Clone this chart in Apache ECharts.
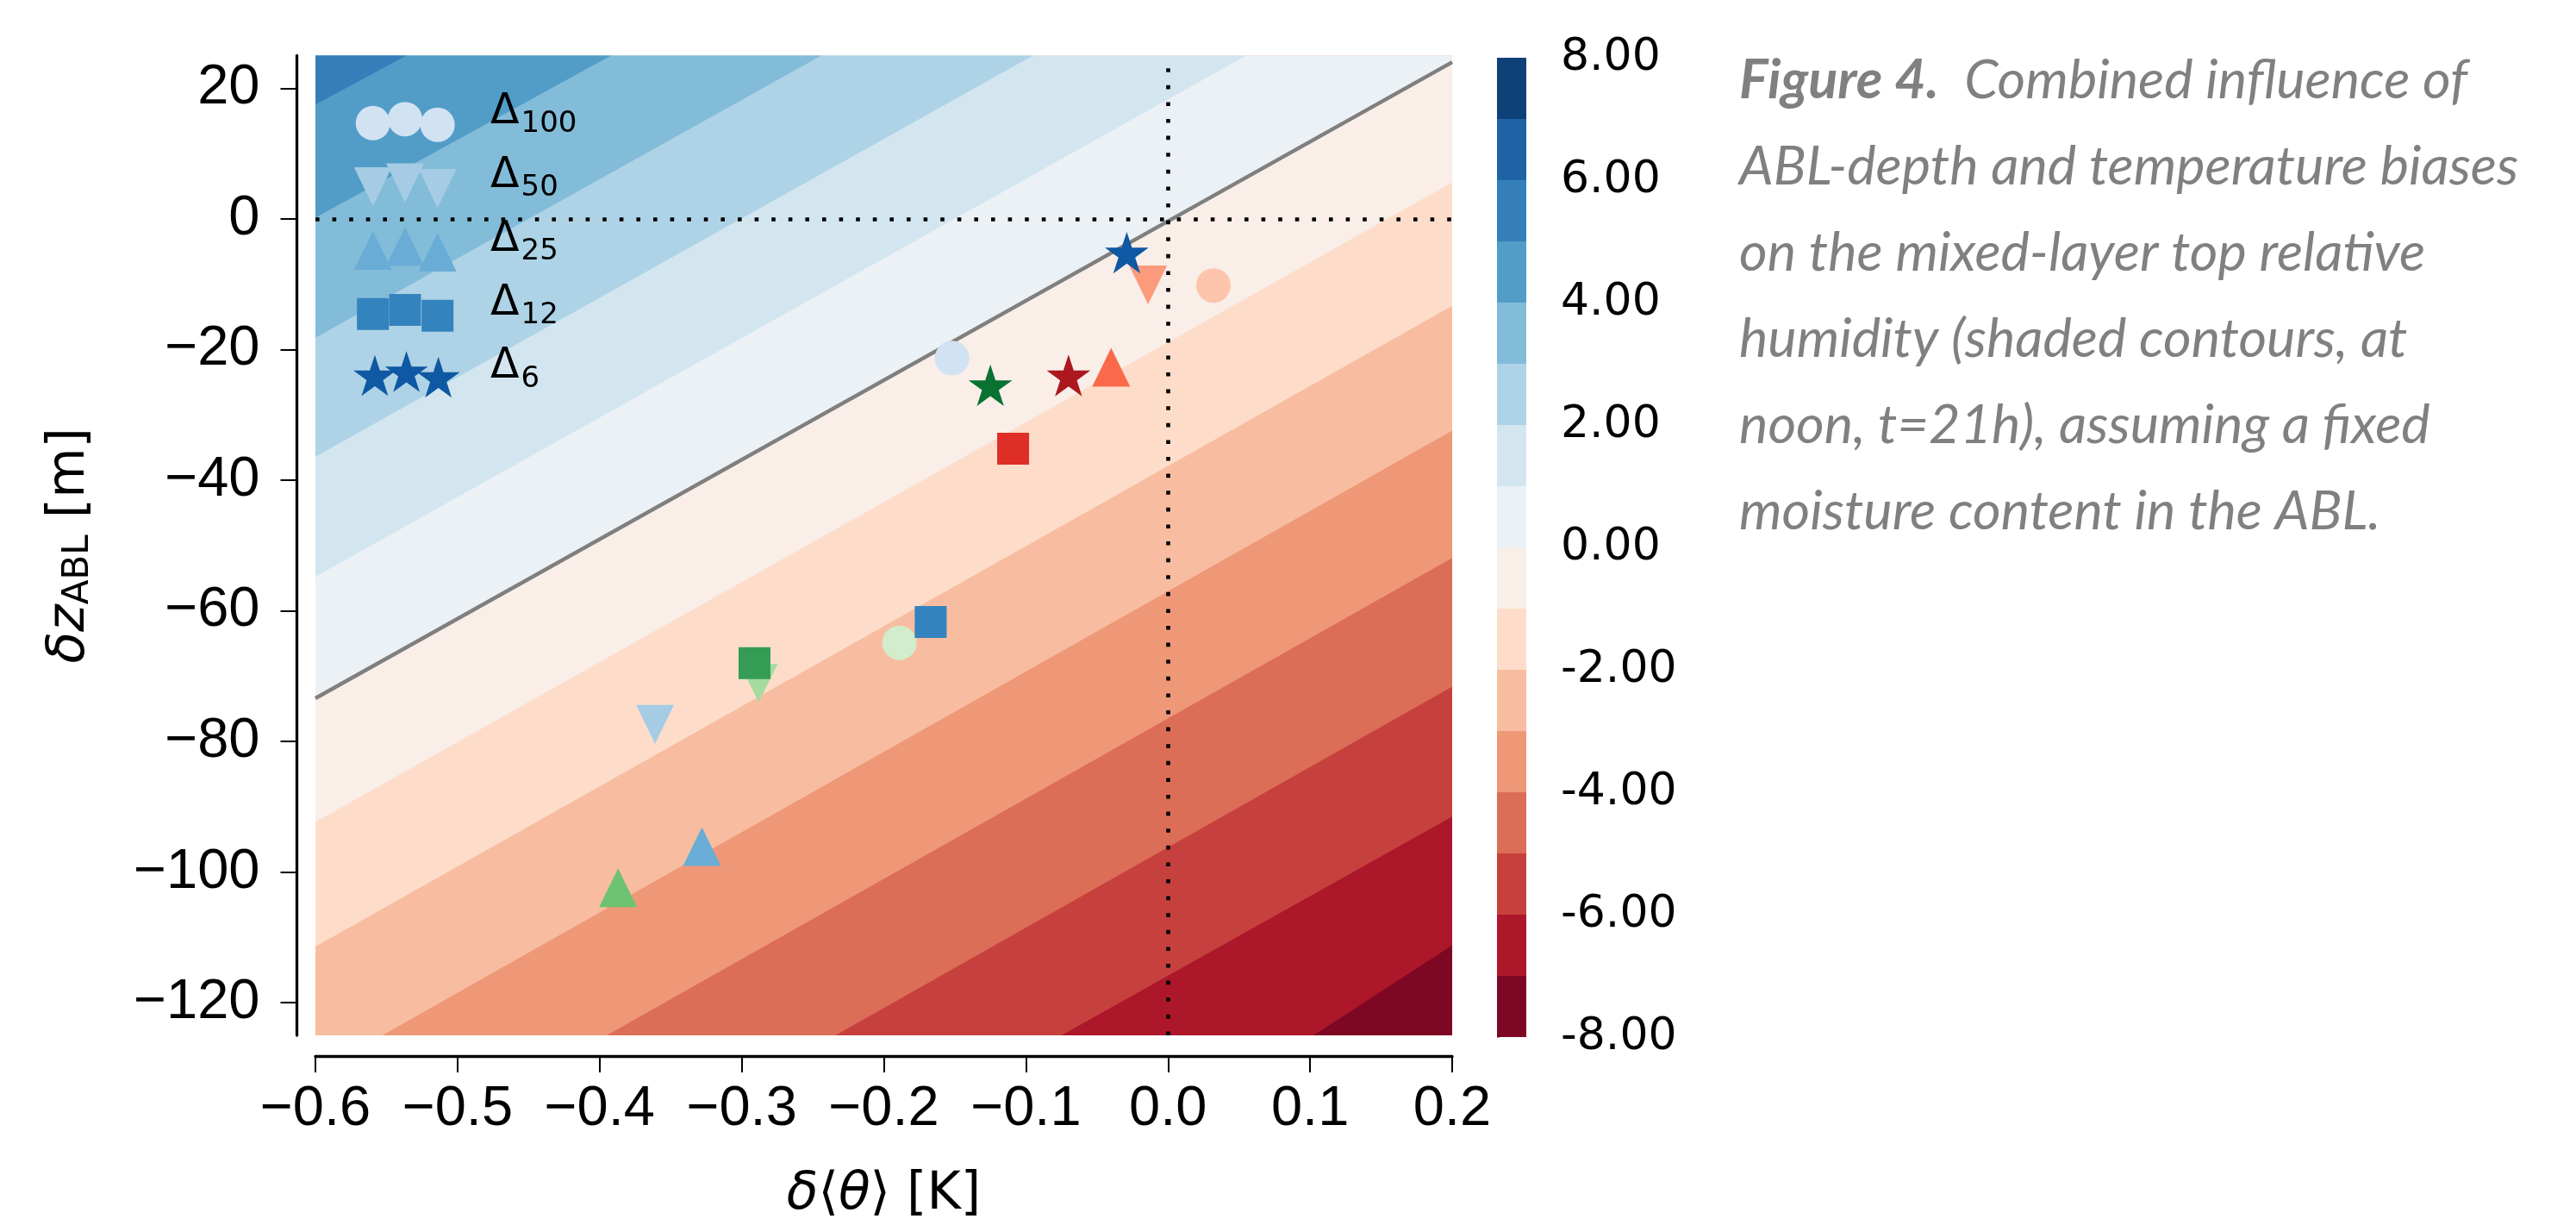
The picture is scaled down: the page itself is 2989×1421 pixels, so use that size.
<!DOCTYPE html>
<html><head><meta charset="utf-8">
<script src="https://cdn.jsdelivr.net/npm/echarts@6/dist/echarts.min.js"></script>
<style>html,body{margin:0;padding:0;background:#fff}#c{width:2989px;height:1421px}</style>
</head><body><div id="c"></div>
<script>
// ---------------- data ----------------
const contourLevels = [-8,-7,-6,-5,-4,-3,-2,-1,0,1,2,3,4,5,6,7,8];
const bandColors = ['#7e0823','#ad172a','#c6413e','#dc6d57','#ee9878','#f8bda0','#fdddca','#f9eee8',
                    '#ebf1f5','#d3e6f0','#aed3e6','#83bcd9','#529cc8','#347fb9','#1f63a7','#0e4178'];
// contour lines: level and two points where each line meets the frame
const lineLevels = [-7, -6, -5, -4, -3, -2, -1, 0, 1, 2, 3, 4, 5];
const lineX1 = [0.1025, -0.075, -0.234, -0.395, -0.553, -0.6, -0.6, -0.6, -0.6, -0.6, -0.6, -0.6, -0.6];
const lineY1 = [-125, -125, -125, -125, -125, -111.4, -92.35, -73.4, -54.8, -36.4, -18.2, 0.2, 17.5];
const lineX2 = [0.2, 0.2, 0.2, 0.2, 0.2, 0.2, 0.2, 0.2, 0.055, -0.095, -0.244, -0.392, -0.536];
const lineY2 = [-111.2, -91.5, -71.6, -51.9, -32.4, -13.3, 5.6, 24.0, 25, 25, 25, 25, 25];
// grey zero line
const zeroLineX = [-0.6, 0.2];
const zeroLineY = [-73.4, 24.0];
// dotted reference lines
const refX = 0, refY = 0;

// markers: order in each list = [blue model, green model, red model]
const seriesNames = ['Δ100', 'Δ50', 'Δ25', 'Δ12', 'Δ6'];
const dTheta100 = [-0.152, -0.189, 0.032];  const dZ100 = [-21.3, -64.9, -10.2];
const dTheta50  = [-0.361, -0.288, -0.014]; const dZ50  = [-77.4, -71.1, -10.1];
const dTheta25  = [-0.328, -0.387, -0.040]; const dZ25  = [-96.1, -102.4, -22.7];
const dTheta12  = [-0.167, -0.291, -0.109]; const dZ12  = [-61.7, -68.0, -35.2];
const dTheta6   = [-0.029, -0.125, -0.070]; const dZ6   = [-5.5, -25.8, -24.3];
const bluePal  = ['#d1e2f2', '#a5cce4', '#69add6', '#3383be', '#0f58a3'];
const greenPal = ['#d2edcb', '#a6dba0', '#6ec372', '#359c55', '#097233'];
const redPal   = ['#fcc5ac', '#fc9b7c', '#fa6a4a', '#df2d27', '#ad171e'];

const xTicks = [-0.6, -0.5, -0.4, -0.3, -0.2, -0.1, 0, 0.1, 0.2];
const yTicks = [-120, -100, -80, -60, -40, -20, 0, 20];
const cbTicks = [-8, -6, -4, -2, 0, 2, 4, 6, 8];

const captionLines = [
  ['Figure 4.', '  Combined influence of'],
  ['', 'ABL-depth and temperature biases'],
  ['', 'on the mixed-layer top relative'],
  ['', 'humidity (shaded contours, at'],
  ['', 'noon, t=21h), assuming a fixed'],
  ['', 'moisture content in the ABL.']
];

// ---------------- helpers ----------------
function starPts(cx, cy, R) {
  let s = '';
  for (let k = 0; k < 10; k++) {
    const r = (k % 2) ? R * 0.381966 : R;
    const a = -Math.PI / 2 + k * Math.PI / 5;
    s += (k ? 'L' : 'M') + (cx + r * Math.cos(a)).toFixed(2) + ',' + (cy + r * Math.sin(a)).toFixed(2) + ' ';
  }
  return s + 'Z ';
}
const STAR_PATH = 'path://' + starPts(0, 0, 100);
const DOWN_PATH = 'path://M0,0 L2,0 L1,2 Z';

// legend icons (three markers each, box 154 x 60)
const LW = 154, LH = 60;
const lcx = [22.7, 60, 97.7], lcy = [31.3, 26.7, 33.3];
function iconPath(kind) {
  let s = 'M0,0 M' + LW + ',' + LH + ' ';
  for (let j = 0; j < 3; j++) {
    const cx = lcx[j], cy = lcy[j];
    if (kind === 'circle') s += `M${cx-20},${cy} A20,20 0 1,0 ${cx+20},${cy} A20,20 0 1,0 ${cx-20},${cy} Z `;
    else if (kind === 'down') s += `M${cx-22},${cy-22.5} L${cx+22},${cy-22.5} L${cx},${cy+22.5} Z `;
    else if (kind === 'up') s += `M${cx},${cy-22.5} L${cx+22},${cy+22.5} L${cx-22},${cy+22.5} Z `;
    else if (kind === 'rect') s += `M${cx-18.5},${cy-18.5} L${cx+18.5},${cy-18.5} L${cx+18.5},${cy+18.5} L${cx-18.5},${cy+18.5} Z `;
    else if (kind === 'star') s += starPts(cx, cy, 26.7);
  }
  return 'path://' + s;
}

function lineAt(k, x) {
  return lineY1[k] + (lineY2[k] - lineY1[k]) * (x - lineX1[k]) / (lineX2[k] - lineX1[k]);
}
const minus = s => String(s).replace('-', '\u2212');

// bands: each drawn from its lower contour up to the top, lowest first
const bandData = [[contourLevels[0]]].concat(lineLevels.map(l => [l]));
function renderBand(params, api) {
  const lo = bandData[params.dataIndex][0];
  const k = lineLevels.indexOf(lo);
  const xa = -0.6, xb = 0.2;
  const ya = k < 0 ? -1000 : lineAt(k, xa);
  const yb = k < 0 ? -1000 : lineAt(k, xb);
  const pts = [api.coord([xa, ya]), api.coord([xb, yb]), api.coord([xb, 1000]), api.coord([xa, 1000])];
  const ci = contourLevels.indexOf(lo);
  return { type: 'polygon', shape: { points: pts }, style: { fill: bandColors[ci] } };
}

const cbData = contourLevels.slice(0, -1).map((lo, i) => [lo, contourLevels[i + 1], i]);
function renderCb(params, api) {
  const d = cbData[params.dataIndex];
  const p1 = api.coord([0, contourLevels[contourLevels.length - 1]]);
  const p2 = api.coord([1, d[0]]);
  return { type: 'rect', shape: { x: p1[0], y: p1[1], width: p2[0] - p1[0], height: p2[1] - p1[1] },
           style: { fill: bandColors[d[2]] } };
}

const markerSets = [
  { xs: dTheta100, ys: dZ100, symbol: 'circle', size: 40, icon: 'circle' },
  { xs: dTheta50, ys: dZ50, symbol: DOWN_PATH, size: [44, 45], icon: 'down' },
  { xs: dTheta25, ys: dZ25, symbol: 'triangle', size: [44, 45], icon: 'up' },
  { xs: dTheta12, ys: dZ12, symbol: 'rect', size: 37, icon: 'rect' },
  { xs: dTheta6, ys: dZ6, symbol: STAR_PATH, size: [50.8, 48.3], icon: 'star', offset: [0, -2.55] }
];
const scatterSeries = markerSets.map((m, i) => ({
  type: 'scatter', name: seriesNames[i], xAxisIndex: 0, yAxisIndex: 0,
  symbol: m.symbol, symbolSize: m.size, symbolOffset: m.offset || [0, 0],
  itemStyle: { color: bluePal[i], opacity: 1, borderWidth: 0 },
  z: 6, silent: true,
  data: m.xs.map((x, j) => ({ value: [x, m.ys[j]], itemStyle: { color: [bluePal, greenPal, redPal][j][i] } }))
}));

const captionText = captionLines.map(l => (l[0] ? '{b|' + l[0] + '}' : '') + '{i|' + l[1] + '}').join('\n');

const chart = echarts.init(document.getElementById('c'), null, { renderer: 'canvas' });
chart.setOption({
  animation: false,
  backgroundColor: '#ffffff',
  title: {
    left: 2018, top: 44, padding: 0,
    text: captionText,
    textStyle: {
      lineHeight: 100,
      rich: {
        b: { fontFamily: 'Lato', fontStyle: 'italic', fontWeight: 'bold', fontSize: 63, color: '#808080', lineHeight: 100 },
        i: { fontFamily: 'Lato', fontStyle: 'italic', fontWeight: 'normal', fontSize: 63, color: '#808080', lineHeight: 100 }
      }
    }
  },
  legend: {
    orient: 'vertical', left: 410, top: 106, padding: 0,
    itemWidth: LW, itemHeight: LH, itemGap: 2.8, selectedMode: false,
    itemStyle: { borderWidth: 0 },
    data: seriesNames.map((n, i) => ({ name: n, icon: iconPath(markerSets[i].icon) })),
    formatter: n => '{d|Δ}{s|' + n.slice(1) + '}',
    textStyle: {
      rich: {
        d: { fontFamily: 'DejaVu Sans', fontSize: 49, color: '#000', lineHeight: 56, padding: [0, 0, 22, 0] },
        s: { fontFamily: 'DejaVu Sans', fontSize: 34, color: '#000', lineHeight: 56, padding: [6, 0, 0, 2] }
      }
    }
  },
  grid: [
    { left: 366, top: 64.5, width: 1319, height: 1142.5 },
    { left: 1737, top: 67, width: 34, height: 1136 }
  ],
  xAxis: [
    {
      type: 'value', gridIndex: 0, min: -0.6, max: 0.2, offset: 24,
      axisLine: { show: true, onZero: false, lineStyle: { color: '#000', width: 3.3 } },
      axisTick: { show: true, inside: false, length: 19, customValues: xTicks, lineStyle: { color: '#000', width: 2 } },
      axisLabel: { customValues: xTicks, formatter: v => minus(v.toFixed(1)), fontFamily: 'Liberation Sans', fontSize: 65, color: '#000', margin: 30 },
      splitLine: { show: false },
      name: '{i|δ}⟨{i|θ}⟩ [K]', nameLocation: 'middle', nameGap: 131,
      nameTextStyle: { fontFamily: 'DejaVu Sans', fontSize: 60, color: '#000',
        rich: { i: { fontFamily: 'DejaVu Sans', fontStyle: 'italic', fontSize: 60, color: '#000' } } }
    },
    { type: 'value', gridIndex: 1, min: 0, max: 1, show: false }
  ],
  yAxis: [
    {
      type: 'value', gridIndex: 0, min: -125, max: 25, offset: 21.5,
      axisLine: { show: true, onZero: false, lineStyle: { color: '#000', width: 3.3 } },
      axisTick: { show: true, inside: false, length: 19, customValues: yTicks, lineStyle: { color: '#000', width: 2 } },
      axisLabel: { customValues: yTicks, formatter: v => minus(v), fontFamily: 'Liberation Sans', fontSize: 65, color: '#000', margin: 43 },
      splitLine: { show: false },
      name: '{i|δz}{sub|ABL} [m]', nameLocation: 'middle', nameGap: 228, nameRotate: 90,
      nameTextStyle: { fontFamily: 'DejaVu Sans', fontSize: 60, color: '#000',
        rich: {
          i: { fontFamily: 'DejaVu Sans', fontStyle: 'italic', fontSize: 60, color: '#000', lineHeight: 70 },
          sub: { fontFamily: 'DejaVu Sans', fontSize: 42, color: '#000', lineHeight: 70, padding: [20, 0, 0, 0] }
        } }
    },
    {
      type: 'value', gridIndex: 1, min: -8, max: 8, interval: 2, position: 'right',
      axisLine: { show: false },
      axisTick: { show: true, inside: false, length: 3, lineStyle: { color: '#999', width: 1 } },
      axisLabel: { formatter: v => v.toFixed(2), fontFamily: 'DejaVu Sans', fontSize: 52, color: '#000', margin: 40 },
      splitLine: { show: false }
    }
  ],
  series: [
    { type: 'custom', name: 'bands', xAxisIndex: 0, yAxisIndex: 0, clip: true, silent: true, z: 1,
      data: bandData, renderItem: renderBand },
    { type: 'line', name: 'zero', xAxisIndex: 0, yAxisIndex: 0, silent: true, z: 3, symbol: 'none',
      data: zeroLineX.map((x, i) => [x, zeroLineY[i]]),
      lineStyle: { color: '#7f7f7f', width: 4.4 },
      markLine: { silent: true, symbol: ['none', 'none'], label: { show: false },
        lineStyle: { color: '#000', width: 4.6, type: [4.6, 15] },
        data: [{ xAxis: refX }, { yAxis: refY }] } },
    { type: 'custom', name: 'colorbar', xAxisIndex: 1, yAxisIndex: 1, silent: true, z: 1,
      data: cbData, renderItem: renderCb }
  ].concat(scatterSeries)
});
</script>
</body></html>
